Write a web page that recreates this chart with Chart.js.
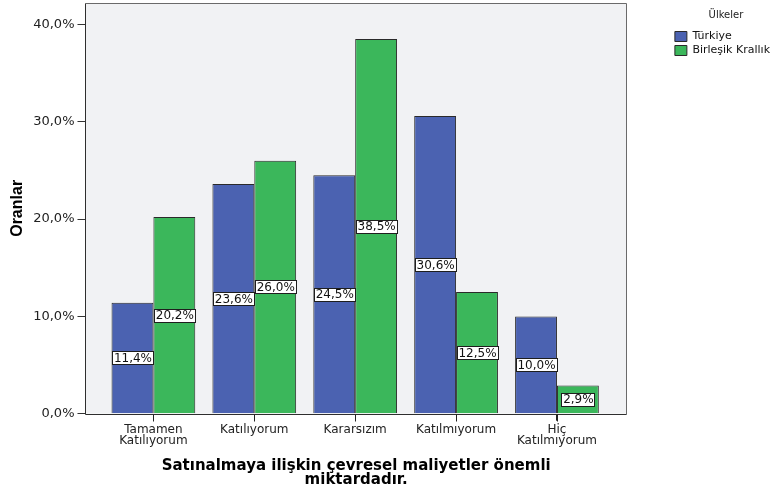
<!DOCTYPE html>
<html>
<head>
<meta charset="utf-8">
<script src="https://cdn.jsdelivr.net/npm/chart.js@4/dist/chart.umd.min.js"></script>
<style>
  html, body { margin: 0; padding: 0; background: #fff; }
  #wrap { width: 780px; height: 492px; }
</style>
</head>
<body>
<div id="wrap"><canvas id="grafik"></canvas></div>
<script>
const kategoriler = [
    ["Tamamen", "Katılıyorum"],
    "Katılıyorum",
    "Kararsızım",
    "Katılmıyorum",
    ["Hiç", "Katılmıyorum"]
];
const turkiye = [11.4, 23.6, 24.5, 30.6, 10.0];
const birlesikKrallik = [20.2, 26.0, 38.5, 12.5, 2.9];
const yTikler = [0, 10, 20, 30, 40];

const MAVI = "#4b62b1";
const YESIL = "#3bb75b";

const yuzde = v => v.toFixed(1).replace(".", ",") + "%";

// arka plan, çerçeve ve x ekseni çentikleri
const cerceve = {
    id: "cerceve",
    beforeDatasetsDraw(chart) {
        const { ctx, chartArea: a } = chart;
        ctx.save();
        ctx.fillStyle = "#f1f2f4";
        ctx.fillRect(a.left, a.top, a.right - a.left, a.bottom - a.top);
        ctx.restore();
    },
    afterDatasetsDraw(chart) {
        const { ctx, chartArea: a } = chart;
        const l = Math.round(a.left) + 0.5, t = Math.round(a.top) + 0.5;
        const r = Math.round(a.right) - 0.5, b = Math.round(a.bottom) + 0.5;
        ctx.save();
        ctx.lineWidth = 1;
        ctx.strokeStyle = "#6a6a6a";
        ctx.beginPath();
        ctx.moveTo(l, t); ctx.lineTo(r, t); ctx.lineTo(r, b);
        ctx.stroke();
        ctx.strokeStyle = "#2e2e2e";
        ctx.beginPath();
        ctx.moveTo(l, t); ctx.lineTo(l, b); ctx.lineTo(r, b);
        ctx.stroke();
        // kategori çentikleri
        const xs = chart.scales.x;
        ctx.strokeStyle = "#222";
        xs.ticks.forEach((_, i) => {
            const px = Math.round(xs.getPixelForTick(i)) + 0.5;
            ctx.beginPath();
            ctx.moveTo(px, b);
            ctx.lineTo(px, b + 7);
            ctx.stroke();
        });
        ctx.restore();
    }
};

// çubuk ortasındaki değer kutuları
const degerEtiketleri = {
    id: "degerEtiketleri",
    afterDatasetsDraw(chart) {
        const ctx = chart.ctx;
        ctx.save();
        ctx.font = "12px 'DejaVu Sans'";
        ctx.textAlign = "center";
        ctx.textBaseline = "middle";
        chart.data.datasets.forEach((ds, i) => {
            chart.getDatasetMeta(i).data.forEach((bar, j) => {
                const metin = yuzde(ds.data[j].y);
                const w = Math.round(ctx.measureText(metin).width + 3);
                const h = 13;
                const x = bar.x;
                const y = (bar.y + bar.base) / 2;
                const bx = Math.round(x - w / 2) + 0.5;
                const by = Math.round(y - h / 2) + 0.5;
                ctx.fillStyle = "#fff";
                ctx.fillRect(bx, by, w, h);
                ctx.strokeStyle = "#1e1e1e";
                ctx.lineWidth = 1;
                ctx.strokeRect(bx, by, w, h);
                ctx.fillStyle = "#111";
                ctx.fillText(metin, x + 0.5, y + 1);
            });
        });
        ctx.restore();
    }
};

const dolguYok = s => { s.paddingTop = 0; s.paddingBottom = 0; s.paddingLeft = 0; s.paddingRight = 0; };

new Chart(document.getElementById("grafik"), {
    type: "bar",
    data: {
        datasets: [
            {
                label: "Türkiye",
                data: turkiye.map((v, i) => ({ x: i, y: v })),
                backgroundColor: MAVI,
                borderColor: "#2a2a2a",
                borderWidth: 1
            },
            {
                label: "Birleşik Krallık",
                data: birlesikKrallik.map((v, i) => ({ x: i, y: v })),
                backgroundColor: YESIL,
                borderColor: "#2a2a2a",
                borderWidth: 1
            }
        ]
    },
    options: {
        responsive: true,
        maintainAspectRatio: false,
        animation: false,
        categoryPercentage: 0.83,
        barPercentage: 1,
        layout: { padding: { top: 3, left: 8, bottom: 5, right: 0 } },
        plugins: {
            tooltip: { enabled: false },
            legend: {
                position: "right",
                align: "start",
                maxWidth: 111,
                title: {
                    display: true,
                    text: "Ülkeler",
                    color: "#222",
                    font: { family: "'DejaVu Sans'", size: 10 },
                    padding: { top: 7, bottom: 6 }
                },
                labels: {
                    boxWidth: 12,
                    boxHeight: 10,
                    padding: 3,
                    color: "#111",
                    font: { family: "'DejaVu Sans'", size: 11 }
                }
            }
        },
        scales: {
            x: {
                type: "linear",
                offset: false,
                min: -0.673,
                max: 4.693,
                afterBuildTicks: s => { s.ticks = kategoriler.map((_, i) => ({ value: i })); },
                afterFit: dolguYok,
                grid: {
                    display: true,
                    offset: false,
                    drawOnChartArea: false,
                    tickLength: 7,
                    color: "#222"
                },
                border: { display: false },
                ticks: {
                    autoSkip: false,
                    maxRotation: 0,
                    padding: 3,
                    color: "#222",
                    font: { family: "'DejaVu Sans'", size: 12, lineHeight: 0.95 },
                    callback: v => kategoriler[v]
                },
                title: {
                    display: true,
                    text: ["Satınalmaya ilişkin çevresel maliyetler önemli", "miktardadır."],
                    color: "#000",
                    font: { family: "'DejaVu Sans'", size: 15, weight: "bold", lineHeight: 0.95 },
                    padding: { top: 9, bottom: 0 }
                }
            },
            y: {
                min: 0,
                max: 42.2,
                afterBuildTicks: s => { s.ticks = yTikler.map(v => ({ value: v })); },
                afterFit: dolguYok,
                grid: { display: true, drawOnChartArea: false, tickLength: 8, color: "#333" },
                border: { display: false },
                ticks: {
                    padding: 3,
                    color: "#222",
                    font: { family: "'DejaVu Sans'", size: 13 },
                    callback: v => yuzde(v)
                },
                title: {
                    display: true,
                    text: "Oranlar",
                    color: "#000",
                    font: { family: "'Liberation Sans'", size: 16, weight: "bold" },
                    padding: { top: 0, bottom: 3 }
                }
            },
            bos: {
                type: "linear",
                position: "right",
                display: true,
                grid: { display: false },
                border: { display: false },
                ticks: { display: false },
                afterFit: s => { s.width = 45; }
            }
        }
    },
    plugins: [cerceve, degerEtiketleri]
});
</script>
</body>
</html>
